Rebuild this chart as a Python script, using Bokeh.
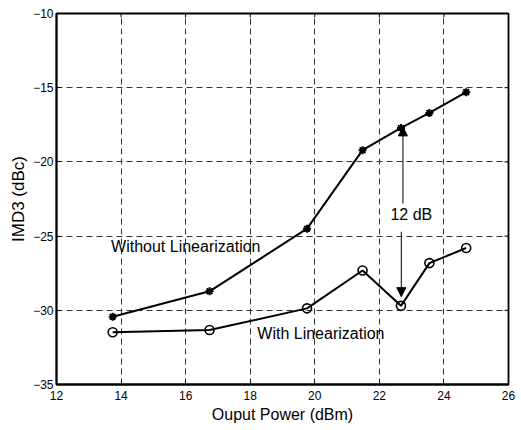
from bokeh.plotting import figure
from bokeh.models import Range1d, Arrow, NormalHead, Label, FixedTicker
from bokeh.embed import file_html
from bokeh.resources import INLINE

power = [13.74, 16.74, 19.76, 21.48, 22.67, 23.55, 24.69]
imd_without = [-30.43, -28.72, -24.5, -19.21, -17.71, -16.7, -15.3]
imd_with = [-31.48, -31.33, -29.87, -27.32, -29.7, -26.82, -25.8]
x_ticks = [12, 14, 16, 18, 20, 22, 24, 26]
y_ticks = [-35, -30, -25, -20, -15, -10]

FONT = "Liberation Sans"
X0, X1, Y0, Y1 = 12, 26, -35, -10
FW, FH = 452, 371

p = figure(frame_width=FW, frame_height=FH, output_backend="svg", toolbar_location=None,
           x_range=Range1d(X0, X1), y_range=Range1d(Y0, Y1),
           min_border_left=56, min_border_top=13, min_border_bottom=44, min_border_right=10,
           background_fill_color="white", border_fill_color="white")

p.outline_line_color = "black"
p.outline_line_width = 1.8

for ax in (p.xaxis[0], p.yaxis[0]):
    ax.major_label_text_font = FONT
    ax.major_label_text_font_size = "12px"
    ax.major_label_text_color = "black"
    ax.axis_label_text_font = FONT
    ax.axis_label_text_font_style = "normal"
    ax.axis_label_text_color = "black"
    ax.major_tick_in = 4
    ax.major_tick_out = 0
    ax.minor_tick_line_color = None
    ax.axis_line_color = "black"
    ax.axis_line_width = 1.8

p.xaxis[0].ticker = FixedTicker(ticks=x_ticks)
p.yaxis[0].ticker = FixedTicker(ticks=y_ticks)
p.xaxis[0].axis_label = "Ouput Power (dBm)"
p.yaxis[0].axis_label = "IMD3 (dBc)"
p.xaxis[0].axis_label_text_font_size = "16px"
p.yaxis[0].axis_label_text_font_size = "17px"
p.xaxis[0].axis_label_standoff = 3
p.yaxis[0].axis_label_standoff = 2
p.xaxis[0].major_label_standoff = 6
p.yaxis[0].major_label_standoff = 3

# inner tick marks on top and right edges
tx = 4 * (X1 - X0) / FW
ty = 4 * (Y1 - Y0) / FH
p.segment(x0=x_ticks, y0=[Y1] * len(x_ticks), x1=x_ticks, y1=[Y1 - ty] * len(x_ticks),
          line_color="black", line_width=1)
p.segment(x0=[X1] * len(y_ticks), y0=y_ticks, x1=[X1 - tx] * len(y_ticks), y1=y_ticks,
          line_color="black", line_width=1)

p.xgrid.ticker = FixedTicker(ticks=x_ticks)
p.ygrid.ticker = FixedTicker(ticks=y_ticks)
for g in (p.xgrid[0], p.ygrid[0]):
    g.grid_line_color = "#333333"
    g.grid_line_dash = "6 4"
    g.grid_line_width = 1

p.line(power, imd_without, line_color="black", line_width=2)
p.scatter(power, imd_without, marker="asterisk", size=8, line_color="black", line_width=2)
p.line(power, imd_with, line_color="black", line_width=2)
p.scatter(power, imd_with, marker="circle", size=9, line_color="black", fill_color=None, line_width=1.6)

p.add_layout(Arrow(end=NormalHead(size=9, fill_color="black", line_color="black"),
                   x_start=22.73, y_start=-22.81, x_end=22.73, y_end=-17.64,
                   line_color="black", line_width=1))
p.add_layout(Arrow(end=NormalHead(size=9, fill_color="black", line_color="black"),
                   x_start=22.68, y_start=-24.71, x_end=22.68, y_end=-29.08,
                   line_color="black", line_width=1))

p.add_layout(Label(x=22.99, y=-23.55, text="12 dB", text_font=FONT, text_font_size="16px",
                   text_align="center", text_baseline="middle", text_color="black"))
p.add_layout(Label(x=13.69, y=-25.7, text="Without Linearization", text_font=FONT,
                   text_font_size="16px", text_baseline="middle", text_color="black"))
p.add_layout(Label(x=18.22, y=-31.58, text="With Linearization", text_font=FONT,
                   text_font_size="16px", text_baseline="middle", text_color="black"))

open("out.html", "w").write(file_html(p, INLINE))
